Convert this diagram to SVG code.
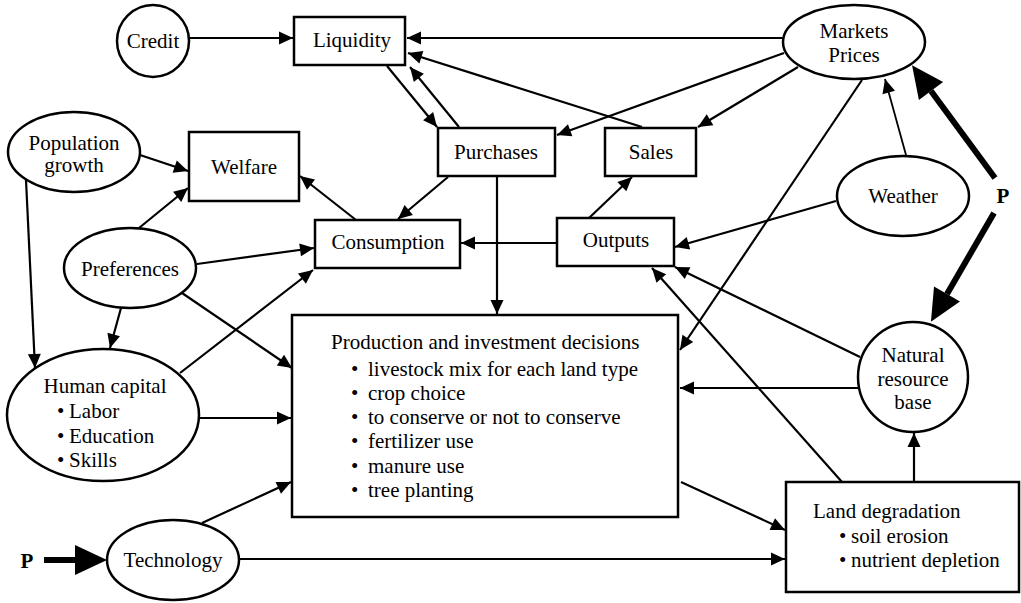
<svg xmlns="http://www.w3.org/2000/svg" width="1021" height="603" viewBox="0 0 1021 603">
<style>
text{font-family:"Liberation Serif","Times New Roman",serif;font-size:21px;fill:#000}
.c{text-anchor:middle}
.b{font-weight:bold}
.n{fill:#fff;stroke:#000;stroke-width:2.5}
.e{stroke:#000;stroke-width:2.2;fill:none;marker-end:url(#a)}
.t{stroke:#000;stroke-width:1.8;fill:none;marker-end:url(#a)}
.k{stroke:#000;stroke-width:6;fill:none;marker-end:url(#K)}
</style>
<defs>
<marker id="a" markerUnits="userSpaceOnUse" markerWidth="14" markerHeight="13" refX="14" refY="6.5" orient="auto" overflow="visible">
<path d="M0,0 L14,6.5 L0,13 z" fill="#000"/>
</marker>
<marker id="K" markerUnits="userSpaceOnUse" markerWidth="32" markerHeight="30" refX="0" refY="15" orient="auto" overflow="visible">
<path d="M0,0 L32,15 L0,30 z" fill="#000"/>
</marker>
</defs>
<rect width="1021" height="603" fill="#fff"/>
<g id="connectors">
<line class="e" x1="189" y1="38" x2="293" y2="38"/>
<line class="e" x1="783" y1="38" x2="407" y2="38"/>
<line class="e" x1="642" y1="127" x2="408" y2="53"/>
<line class="e" x1="387" y1="66" x2="437" y2="127"/>
<line class="e" x1="459" y1="127" x2="410" y2="67"/>
<line class="e" x1="784" y1="53" x2="557" y2="135"/>
<line class="e" x1="798" y1="67" x2="698" y2="127"/>
<line class="e" x1="862" y1="80" x2="680" y2="350"/>
<line class="t" x1="906" y1="155" x2="885" y2="79"/>
<line class="e" x1="836" y1="201" x2="675" y2="247"/>
<line class="e" x1="589" y1="218" x2="632" y2="177"/>
<line class="e" x1="557" y1="243" x2="461" y2="243"/>
<line class="e" x1="448" y1="177" x2="398" y2="219"/>
<line class="e" x1="497" y1="177" x2="497" y2="314"/>
<line class="e" x1="356" y1="220" x2="300" y2="176"/>
<line class="e" x1="140" y1="155" x2="188" y2="171"/>
<line class="e" x1="139" y1="228" x2="188" y2="188"/>
<line class="e" x1="197" y1="264" x2="314" y2="248"/>
<line class="e" x1="26" y1="180" x2="35" y2="368"/>
<line class="e" x1="121" y1="308" x2="110" y2="348"/>
<line class="e" x1="180" y1="373" x2="313" y2="270"/>
<line class="e" x1="182" y1="293" x2="292" y2="368"/>
<line class="e" x1="200" y1="418" x2="291" y2="418"/>
<line class="e" x1="202" y1="523" x2="291" y2="482"/>
<line class="e" x1="240" y1="559" x2="785" y2="559"/>
<line class="e" x1="681" y1="482" x2="785" y2="530"/>
<line class="e" x1="859" y1="388" x2="680" y2="388"/>
<line class="e" x1="860" y1="357" x2="675" y2="267"/>
<line class="e" x1="842" y1="482" x2="652" y2="268"/>
<line class="e" x1="914" y1="482" x2="914" y2="433"/>
<line class="k" x1="995" y1="178" x2="931" y2="91"/>
<line class="k" x1="994" y1="213" x2="947" y2="294"/>
<line class="k" x1="44" y1="560" x2="75" y2="560"/>
</g>
<g id="credit"><circle class="n" cx="153" cy="41" r="36"/><text class="c" x="153" y="48">Credit</text></g>
<g id="liquidity"><rect class="n" x="294" y="17" width="111" height="48"/><text class="c" x="352" y="47">Liquidity</text></g>
<g id="markets"><ellipse class="n" cx="854" cy="42" rx="71" ry="37"/><text class="c" x="854" y="38">Markets</text><text class="c" x="854" y="62">Prices</text></g>
<g id="population"><ellipse class="n" cx="74" cy="152" rx="66" ry="40"/><text class="c" x="74" y="150">Population</text><text class="c" x="74" y="172">growth</text></g>
<g id="welfare"><rect class="n" x="189" y="132" width="110" height="69"/><text class="c" x="244" y="174">Welfare</text></g>
<g id="purchases"><rect class="n" x="438" y="128" width="117" height="48"/><text class="c" x="496" y="159">Purchases</text></g>
<g id="sales"><rect class="n" x="605" y="128" width="91" height="48"/><text class="c" x="651" y="159">Sales</text></g>
<g id="weather"><ellipse class="n" cx="903" cy="196" rx="66" ry="40"/><text class="c" x="903" y="203">Weather</text></g>
<g id="consumption"><rect class="n" x="315" y="220" width="145" height="48"/><text class="c" x="388" y="249">Consumption</text></g>
<g id="outputs"><rect class="n" x="557" y="218" width="117" height="48"/><text class="c" x="616" y="247">Outputs</text></g>
<g id="preferences"><ellipse class="n" cx="130" cy="268" rx="66" ry="40"/><text class="c" x="130" y="276">Preferences</text></g>
<g id="human-capital"><ellipse class="n" cx="103" cy="415" rx="96" ry="66"/>
<text class="c" x="105" y="393">Human capital</text>
<text x="57" y="418">•</text><text x="69" y="418">Labor</text>
<text x="57" y="443">•</text><text x="69" y="443">Education</text>
<text x="57" y="467">•</text><text x="69" y="467">Skills</text></g>
<g id="production"><rect class="n" x="292" y="315" width="386" height="202"/>
<text x="331" y="349">Production and investment decisions</text>
<text x="351" y="376">•</text><text x="368" y="376">livestock mix for each land type</text>
<text x="351" y="400">•</text><text x="368" y="400">crop choice</text>
<text x="351" y="424">•</text><text x="368" y="424">to conserve or not to conserve</text>
<text x="351" y="448">•</text><text x="368" y="448">fertilizer use</text>
<text x="351" y="473">•</text><text x="368" y="473">manure use</text>
<text x="351" y="497">•</text><text x="368" y="497">tree planting</text></g>
<g id="natural-resource"><circle class="n" cx="913" cy="377" r="55"/><text class="c" x="913" y="362">Natural</text><text class="c" x="913" y="386">resource</text><text class="c" x="913" y="409">base</text></g>
<g id="land-degradation"><rect class="n" x="786" y="482" width="233" height="110"/>
<text x="813" y="518">Land degradation</text>
<text x="839" y="543">•</text><text x="851" y="543">soil erosion</text>
<text x="839" y="567">•</text><text x="851" y="567">nutrient depletion</text></g>
<g id="technology"><ellipse class="n" cx="173" cy="560" rx="66" ry="40"/><text class="c" x="173" y="567">Technology</text></g>
<g id="p-right"><text class="b c" x="1003" y="203">P</text></g>
<g id="p-left"><text class="b c" x="27" y="568">P</text></g>
</svg>
